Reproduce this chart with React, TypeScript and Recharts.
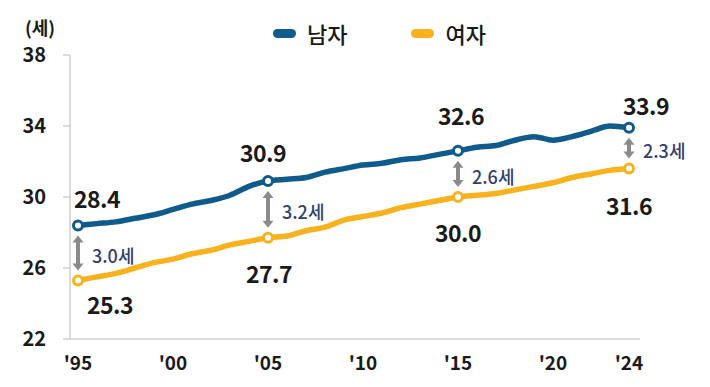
import React from "react";
import {
  LineChart,
  Line,
  XAxis,
  YAxis,
  ReferenceLine,
  LabelList,
} from "recharts";

const years = [
  1995, 1996, 1997, 1998, 1999, 2000, 2001, 2002, 2003, 2004, 2005, 2006,
  2007, 2008, 2009, 2010, 2011, 2012, 2013, 2014, 2015, 2016, 2017, 2018,
  2019, 2020, 2021, 2022, 2023, 2024,
];
const male = [
  28.4, 28.5, 28.6, 28.8, 29.0, 29.3, 29.6, 29.8, 30.1, 30.6, 30.9, 31.0,
  31.1, 31.4, 31.6, 31.8, 31.9, 32.1, 32.2, 32.4, 32.6, 32.8, 32.9, 33.2,
  33.4, 33.2, 33.4, 33.7, 34.0, 33.9,
];
const female = [
  25.3, 25.5, 25.7, 26.0, 26.3, 26.5, 26.8, 27.0, 27.3, 27.5, 27.7, 27.8,
  28.1, 28.3, 28.7, 28.9, 29.1, 29.4, 29.6, 29.8, 30.0, 30.1, 30.2, 30.4,
  30.6, 30.8, 31.1, 31.3, 31.5, 31.6,
];
const xTicks = [1995, 2000, 2005, 2010, 2015, 2020, 2024];
const xTickLabels = ["'95", "'00", "'05", "'10", "'15", "'20", "'24"];
const yTicks = [22, 26, 30, 34, 38];
const markedYears = [1995, 2005, 2015, 2024];
const gapLabels = ["3.0세", "3.2세", "2.6세", "2.3세"];
const seriesNames = ["남자", "여자"];

const data = years.map((year, i) => ({
  year,
  male: male[i],
  female: female[i],
}));

const MALE_COLOR = "#0f5b8b";
const FEMALE_COLOR = "#f7b21e";
const ARROW_COLOR = "#8a8a8a";
const FONT = "'Noto Sans CJK KR', 'Noto Sans', sans-serif";

// label offsets (px) from the marked point, by year
const maleOffsets: Record<number, [number, number]> = {
  1995: [19, -27],
  2005: [-5, -29],
  2015: [3, -36],
  2024: [17, -23],
};
const femaleOffsets: Record<number, [number, number]> = {
  1995: [32, 24],
  2005: [1, 35],
  2015: [0, 35],
  2024: [0, 36],
};

const makeDot = (color: string) => (props: any) => {
  const { cx, cy, payload, index } = props;
  if (!markedYears.includes(payload.year)) return <g key={`d-${index}`} />;
  return (
    <circle
      key={`d-${index}`}
      cx={cx}
      cy={cy}
      r={4.5}
      fill="#fff"
      stroke={color}
      strokeWidth={3}
    />
  );
};

const makeValueLabel =
  (offsets: Record<number, [number, number]>) => (props: any) => {
    const { x, y, value, index } = props;
    const year = years[index];
    if (!markedYears.includes(year)) return null;
    const [dx, dy] = offsets[year];
    return (
      <text
        x={x + dx}
        y={y + dy}
        textAnchor="middle"
        dominantBaseline="central"
        fontFamily={FONT}
        fontWeight={700}
        fontSize={23}
        letterSpacing={-0.5}
        fill="#1a1a1a"
      >
        {Number(value).toFixed(1)}
      </text>
    );
  };

const gapArrow = (label: string) => (props: any) => {
  const { x1, y1, y2 } = props;
  const top = Math.min(y1, y2) + 10;
  const bottom = Math.max(y1, y2) - 10;
  const x = x1;
  const mid = (top + bottom) / 2;
  return (
    <g>
      <line x1={x} y1={top + 6} x2={x} y2={bottom - 6} stroke={ARROW_COLOR} strokeWidth={4} />
      <polygon points={`${x - 5.5},${top + 7} ${x + 5.5},${top + 7} ${x},${top}`} fill={ARROW_COLOR} />
      <polygon points={`${x - 5.5},${bottom - 7} ${x + 5.5},${bottom - 7} ${x},${bottom}`} fill={ARROW_COLOR} />
      <text
        x={x + 14}
        y={mid + 2}
        dominantBaseline="central"
        fontFamily={FONT}
        fontSize={18}
        fontWeight={500}
        fill="#33406e"
      >
        {label}
      </text>
    </g>
  );
};

export default function App() {
  return (
    <div style={{ position: "relative", width: 710, height: 387, background: "#fff" }}>
      <style>{`body{margin:0}`}</style>
      <div
        style={{
          position: "absolute",
          left: 25,
          top: 14,
          fontFamily: FONT,
          fontSize: 18,
          fontWeight: 700,
          color: "#1a1a1a",
        }}
      >
        (세)
      </div>
      {/* legend */}
      <div
        style={{
          position: "absolute",
          left: 273,
          top: 19,
          display: "flex",
          alignItems: "center",
          fontFamily: FONT,
        }}
      >
        {[MALE_COLOR, FEMALE_COLOR].map((color, i) => (
          <div
            key={seriesNames[i]}
            style={{ display: "flex", alignItems: "center", marginLeft: i ? 64 : 0 }}
          >
            <span
              style={{
                width: 23,
                height: 9,
                borderRadius: 5,
                background: color,
                marginRight: 11,
                display: "inline-block",
              }}
            />
            <span style={{ fontSize: 22, color: "#1a1a1a", fontWeight: 500, lineHeight: "28px" }}>
              {seriesNames[i]}
            </span>
          </div>
        ))}
      </div>
      <LineChart
        width={710}
        height={387}
        data={data}
        margin={{ top: 55, right: 70, bottom: 18, left: 0 }}
      >
        <XAxis
          dataKey="year"
          type="number"
          domain={[1995, 2024]}
          ticks={xTicks}
          tickFormatter={(v) => xTickLabels[xTicks.indexOf(v)]}
          padding={{ left: 8, right: 11 }}
          height={30}
          tickLine={false}
          tickSize={0}
          tickMargin={18}
          axisLine={{ stroke: "#cfcfcf", strokeWidth: 1.5 }}
          tick={{ fill: "#1a1a1a", fontSize: 19, fontWeight: 700, fontFamily: FONT }}
        />
        <YAxis
          domain={[22, 38]}
          ticks={yTicks}
          width={70}
          tickSize={7}
          tickMargin={17}
          axisLine={{ stroke: "#cfcfcf", strokeWidth: 1.5 }}
          tickLine={{ stroke: "#cfcfcf", strokeWidth: 1.5 }}
          tick={{ fill: "#1a1a1a", fontSize: 20, fontWeight: 700, fontFamily: FONT }}
        />
        {markedYears.map((yr, i) => {
          const idx = years.indexOf(yr);
          return (
            <ReferenceLine
              key={`gap-${yr}`}
              segment={[
                { x: yr, y: male[idx] },
                { x: yr, y: female[idx] },
              ]}
              shape={gapArrow(gapLabels[i])}
            />
          );
        })}
        <Line
          type="monotone"
          dataKey="male"
          stroke={MALE_COLOR}
          strokeWidth={5.5}
          dot={makeDot(MALE_COLOR)}
          activeDot={false}
          isAnimationActive={false}
        >
          <LabelList dataKey="male" content={makeValueLabel(maleOffsets)} />
        </Line>
        <Line
          type="monotone"
          dataKey="female"
          stroke={FEMALE_COLOR}
          strokeWidth={5.5}
          dot={makeDot(FEMALE_COLOR)}
          activeDot={false}
          isAnimationActive={false}
        >
          <LabelList dataKey="female" content={makeValueLabel(femaleOffsets)} />
        </Line>
      </LineChart>
    </div>
  );
}
